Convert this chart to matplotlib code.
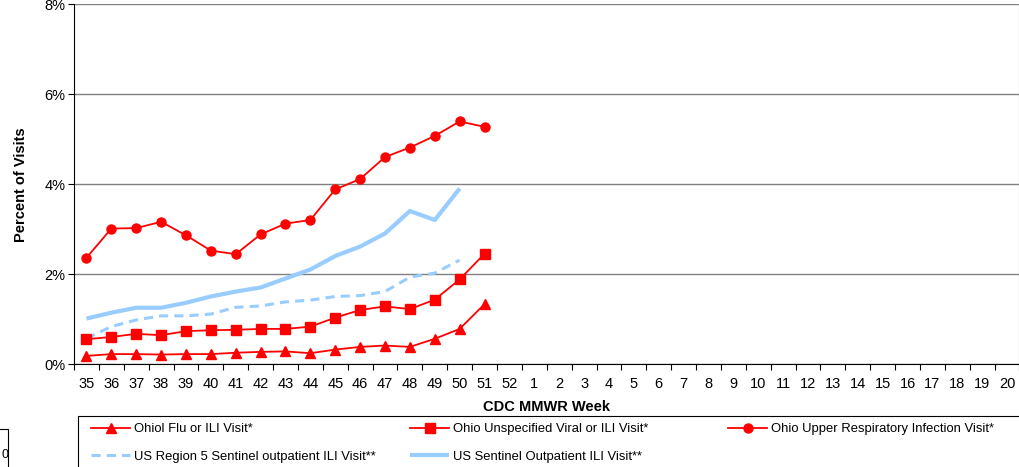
import numpy as np
import matplotlib
matplotlib.use("Agg")
import matplotlib.pyplot as plt
from matplotlib.patches import Rectangle

plt.rcParams['font.family'] = ['Liberation Sans', 'DejaVu Sans']

# CDC MMWR weeks on the category axis
weeks = [str(w) for w in range(35, 53)] + [str(w) for w in range(1, 21)]

# percent of visits, weeks 35..51 (Ohio) and 35..50 (US)
ohio_flu_ili = [0.18, 0.22, 0.22, 0.21, 0.22, 0.22, 0.25, 0.27, 0.28, 0.24,
                0.32, 0.38, 0.41, 0.38, 0.56, 0.78, 1.33]
ohio_unspec_viral = [0.55, 0.60, 0.67, 0.64, 0.73, 0.75, 0.76, 0.78, 0.78, 0.83,
                     1.03, 1.20, 1.28, 1.22, 1.43, 1.88, 2.45]
ohio_uri = [2.36, 3.01, 3.02, 3.16, 2.86, 2.52, 2.44, 2.88, 3.12, 3.20,
            3.88, 4.11, 4.60, 4.81, 5.07, 5.39, 5.27]
us_region5 = [0.57, 0.83, 0.98, 1.07, 1.07, 1.11, 1.26, 1.29, 1.38, 1.42,
              1.50, 1.52, 1.61, 1.93, 2.02, 2.31]
us_sentinel = [1.01, 1.14, 1.25, 1.25, 1.36, 1.50, 1.61, 1.70, 1.90, 2.10,
               2.40, 2.61, 2.90, 3.40, 3.20, 3.90]

labels = ["Ohiol Flu or ILI Visit*", "Ohio Unspecified Viral or ILI Visit*",
          "Ohio Upper Respiratory Infection Visit*",
          "US Region 5 Sentinel outpatient ILI Visit**",
          "US Sentinel Outpatient ILI Visit**"]

red = "#FF0000"
blue = "#99CCFF"

W, H = 1020, 467
fig = plt.figure(figsize=(W / 100, H / 100), dpi=100)
ax = fig.add_axes([74 / W, 1 - 364 / H, 945.5 / W, 360 / H])

x_all = np.arange(len(weeks))
x_ohio = x_all[:len(ohio_uri)]
x_us = x_all[:len(us_sentinel)]

h_sent, = ax.plot(x_us, us_sentinel, color=blue, lw=3.0, solid_capstyle='butt', zorder=2)
h_reg5, = ax.plot(x_us, us_region5, color=blue, lw=2.2, ls=(0, (3, 2)), zorder=2)
h_flu, = ax.plot(x_ohio, ohio_flu_ili, color=red, lw=1.3, marker='^', ms=7.5, zorder=3)
h_viral, = ax.plot(x_ohio, ohio_unspec_viral, color=red, lw=1.3, marker='s', ms=6.5, zorder=3)
h_uri, = ax.plot(x_ohio, ohio_uri, color=red, lw=1.3, marker='o', ms=6.5, zorder=3)

ax.set_xlim(-0.5, len(weeks) - 0.5)
ax.set_ylim(0, 8)
ax.set_xticks(x_all)
ax.set_xticklabels(weeks, fontsize=10.5)
ax.set_xticks(np.arange(-0.5, len(weeks)), minor=True)
ax.tick_params(axis='x', which='major', length=0, pad=9)
ax.tick_params(axis='x', which='minor', length=4, width=0.8, direction='out')
ax.set_yticks([0, 2, 4, 6, 8])
ax.set_yticklabels([f"{v}%" for v in [0, 2, 4, 6, 8]], fontsize=10.5)
ax.tick_params(axis='y', length=4, width=0.8, direction='out', pad=2)

ax.yaxis.grid(True, color="#808080", lw=1.0)
ax.set_axisbelow(True)
ax.spines['left'].set_color('black')
ax.spines['bottom'].set_color('black')
ax.spines['top'].set_visible(False)
ax.spines['right'].set_color('#999999')

ax.set_xlabel("CDC MMWR Week", fontsize=10.5, fontweight='bold', labelpad=7)
fig.text(21 / W, 1 - 185 / H, "Percent of Visits", rotation=90, fontsize=10.5,
         fontweight='bold', ha='center', va='center')

# legend frame, runs off the right and bottom edges
fig.patches.append(Rectangle((78 / W, -0.1), 1.0, 0.1 + (1 - 416 / H),
                             transform=fig.transFigure, fill=False,
                             edgecolor='black', lw=0.8))

cols = [([h_flu, h_reg5], [labels[0], labels[3]], 91),
        ([h_viral, h_sent], [labels[1], labels[4]], 410),
        ([h_uri], [labels[2]], 728)]
for hs, ls, xpos in cols:
    fig.legend(hs, ls, loc='upper left', bbox_to_anchor=(xpos / W, 1 - 423 / H),
               frameon=False, fontsize=9.4, handlelength=3.0, handletextpad=0.3,
               labelspacing=1.2, borderpad=0, borderaxespad=0)

# stray clipped text box at bottom left
fig.patches.append(Rectangle((-0.01, -0.1), 7.5 / W + 0.01, 0.1 + (1 - 429 / H),
                             transform=fig.transFigure, fill=False,
                             edgecolor='black', lw=0.8))
fig.text(2 / W, 1 - 455 / H, "0", fontsize=9, ha='left', va='center')

fig.savefig("out.png", dpi=100)
